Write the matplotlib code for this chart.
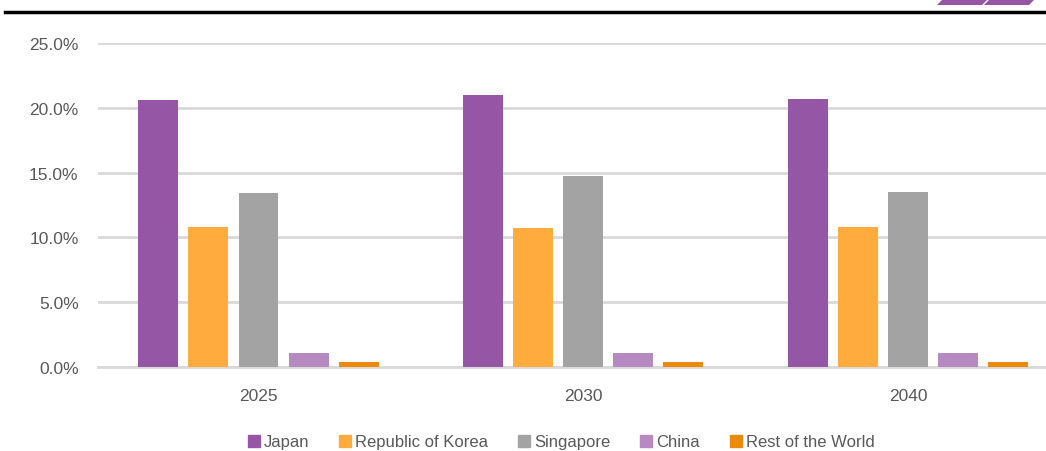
import numpy as np
import matplotlib.pyplot as plt
from matplotlib.patches import Polygon
from matplotlib.lines import Line2D

plt.rcParams['font.family'] = ['Liberation Sans', 'DejaVu Sans']

years = ['2025', '2030', '2040']
countries = ['Japan', 'Republic of Korea', 'Singapore', 'China', 'Rest of the World']
shares = {
    'Japan': [20.6, 21.0, 20.7],
    'Republic of Korea': [10.8, 10.7, 10.8],
    'Singapore': [13.4, 14.7, 13.5],
    'China': [1.1, 1.1, 1.1],
    'Rest of the World': [0.4, 0.4, 0.4],
}
colors = ['#9656A6', '#FFAB3E', '#A3A3A3', '#B689C1', '#EC8A0C']

fig = plt.figure(figsize=(10.46, 4.52), dpi=100)
ax = fig.add_axes([98 / 1046, 84 / 452, 948 / 1046, 324 / 452])

x = np.arange(len(years))
step = 0.154
width = 0.123
for i, (name, col) in enumerate(zip(countries, colors)):
    ax.bar(x + (i - 2) * step, shares[name], width, color=col, label=name, zorder=3)

ax.set_ylim(0, 25)
ax.set_xlim(-0.494, 2.424)
ax.set_yticks(np.arange(0, 26, 5))
ax.set_yticklabels([f'{v:.1f}%' for v in np.arange(0, 26, 5)])
ax.set_xticks(x)
ax.set_xticklabels(years)
ax.yaxis.grid(True, color='#D9D9D9', linewidth=2, zorder=0)
ax.tick_params(length=0, labelsize=12.5, labelcolor='#595959')
ax.tick_params(axis='y', pad=14)
ax.tick_params(axis='x', pad=15)
for s in ['top', 'right', 'left']:
    ax.spines[s].set_visible(False)
ax.spines['bottom'].set_color('#D9D9D9')
ax.spines['bottom'].set_linewidth(2)

handles = [Line2D([], [], marker='s', linestyle='none', markersize=8,
                  markerfacecolor=c, markeredgecolor=c) for c in colors]
fig.legend(handles, countries, loc='center', bbox_to_anchor=(560 / 1046, 1 - 443 / 452),
           ncol=5, frameon=False, fontsize=12, labelcolor='#595959',
           handletextpad=0.1, columnspacing=1.65, handlelength=1.0)

# header rule and corner mark
fig.add_artist(Line2D([5 / 1046, 1], [1 - 13 / 452, 1 - 13 / 452], color='black', linewidth=2.5))
for x0 in (937, 984):
    pts = [(x0, 6), (x0 + 45, 6), (x0 + 51, 0), (x0 + 6, 0)]
    fig.add_artist(Polygon([(px / 1046, 1 - py / 452) for px, py in pts],
                           closed=True, facecolor='#9656A6', edgecolor='none'))

fig.savefig('out.png', dpi=100)
